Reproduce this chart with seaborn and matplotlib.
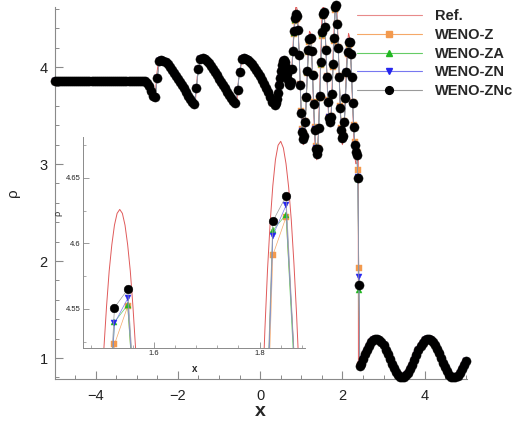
import numpy as np
import matplotlib
matplotlib.use("Agg")
import matplotlib.pyplot as plt
from matplotlib.lines import Line2D
from matplotlib.ticker import MultipleLocator, FixedLocator, FixedFormatter
import seaborn as sns

sns.set_theme(style="ticks")
plt.rcParams["font.family"] = ["Liberation Sans", "DejaVu Sans"]

# ---------------- data ----------------
# smooth post-shock region, x = -5.0 ... 0.35 (step 0.05), shared by all schemes
rho_smooth_left = [
    3.857, 3.857, 3.857, 3.857, 3.857, 3.857, 3.857, 3.857, 3.857, 3.857,
    3.857, 3.857, 3.857, 3.857, 3.857, 3.857, 3.857, 3.857, 3.857, 3.857,
    3.857, 3.857, 3.857, 3.857, 3.857, 3.857, 3.857, 3.857, 3.857, 3.857,
    3.857, 3.857, 3.857, 3.857, 3.857, 3.857, 3.857, 3.857, 3.857, 3.857,
    3.857, 3.857, 3.857, 3.857, 3.857,
    3.84, 3.80, 3.75, 3.70, 3.69,
    3.89, 4.06, 4.07, 4.06, 4.05, 4.03, 4.00, 3.97, 3.94, 3.91, 3.88,
    3.85, 3.81, 3.78, 3.74, 3.70, 3.67, 3.64, 3.62,
    3.78, 3.98, 4.08, 4.09, 4.08, 4.06, 4.04, 4.01, 3.98, 3.95, 3.92, 3.88,
    3.85, 3.81, 3.78, 3.74, 3.71, 3.68, 3.65, 3.63,
    3.76, 3.95, 4.08, 4.09, 4.08, 4.07, 4.05, 4.03, 4.00, 3.97, 3.94, 3.91,
    3.87, 3.83, 3.78, 3.74, 3.69, 3.64, 3.61,
]

# high-frequency region, x = 0.375 ... 2.425 (step 0.025)
rho_znc_hf = [
    3.63, 3.67, 3.73, 3.81, 3.89, 3.96, 4.02, 4.06, 4.07, 4.05, 4.00, 3.93,
    3.87, 3.83, 3.82, 3.85, 3.98, 4.17, 4.37, 4.51, 4.55, 4.53, 4.38, 4.12,
    3.82, 3.53, 3.33, 3.26, 3.29, 3.43, 3.69, 3.96, 4.18, 4.29, 4.30, 4.17,
    3.92, 3.62, 3.35, 3.16, 3.10, 3.15, 3.37, 3.70, 4.05, 4.36, 4.551, 4.565,
    4.41, 4.18, 3.90, 3.64, 3.47, 3.43, 3.49, 3.72, 4.03, 4.30, 4.617, 4.636,
    4.44, 4.20, 3.90, 3.58, 3.35, 3.27, 3.29, 3.43, 3.68, 3.95, 4.16, 4.26,
    4.26, 4.13, 3.90, 3.63, 3.38, 3.20, 3.12, 3.09, 2.86, 1.75, 0.92,
]
rho_zn_hf = [
    3.63, 3.67, 3.73, 3.81, 3.89, 3.96, 4.02, 4.06, 4.07, 4.05, 4.00, 3.93,
    3.87, 3.83, 3.82, 3.85, 3.98, 4.16, 4.36, 4.50, 4.54, 4.52, 4.38, 4.12,
    3.82, 3.53, 3.34, 3.27, 3.30, 3.43, 3.69, 3.95, 4.17, 4.28, 4.30, 4.17,
    3.92, 3.62, 3.36, 3.17, 3.11, 3.16, 3.37, 3.70, 4.04, 4.35, 4.539, 4.558,
    4.41, 4.18, 3.90, 3.64, 3.48, 3.44, 3.49, 3.72, 4.02, 4.29, 4.606, 4.629,
    4.44, 4.20, 3.90, 3.58, 3.35, 3.27, 3.29, 3.43, 3.68, 3.95, 4.16, 4.26,
    4.26, 4.13, 3.90, 3.63, 3.38, 3.20, 3.12, 3.09, 2.87, 1.84, 0.92,
]
rho_za_hf = [
    3.63, 3.67, 3.73, 3.81, 3.89, 3.96, 4.02, 4.06, 4.07, 4.05, 4.00, 3.93,
    3.87, 3.83, 3.82, 3.85, 3.98, 4.16, 4.35, 4.49, 4.53, 4.52, 4.38, 4.12,
    3.82, 3.54, 3.35, 3.28, 3.30, 3.43, 3.68, 3.95, 4.17, 4.28, 4.29, 4.17,
    3.92, 3.63, 3.37, 3.18, 3.12, 3.16, 3.37, 3.69, 4.03, 4.34, 4.540, 4.553,
    4.40, 4.18, 3.90, 3.65, 3.48, 3.44, 3.49, 3.71, 4.02, 4.29, 4.610, 4.622,
    4.43, 4.20, 3.90, 3.59, 3.36, 3.28, 3.30, 3.43, 3.68, 3.94, 4.15, 4.25,
    4.25, 4.13, 3.90, 3.63, 3.39, 3.21, 3.13, 3.10, 2.85, 1.70, 0.92,
]
rho_z_hf = [
    3.63, 3.67, 3.73, 3.81, 3.89, 3.96, 4.02, 4.06, 4.07, 4.05, 4.00, 3.93,
    3.87, 3.83, 3.82, 3.85, 3.98, 4.15, 4.34, 4.47, 4.51, 4.50, 4.37, 4.12,
    3.83, 3.55, 3.36, 3.29, 3.31, 3.44, 3.68, 3.94, 4.15, 4.26, 4.28, 4.17,
    3.93, 3.64, 3.38, 3.19, 3.13, 3.17, 3.37, 3.68, 4.02, 4.32, 4.523, 4.552,
    4.41, 4.19, 3.91, 3.66, 3.49, 3.45, 3.50, 3.71, 4.00, 4.27, 4.591, 4.620,
    4.45, 4.21, 3.91, 3.60, 3.37, 3.29, 3.31, 3.44, 3.67, 3.93, 4.13, 4.23,
    4.24, 4.12, 3.90, 3.64, 3.40, 3.23, 3.15, 3.12, 2.94, 1.93, 0.93,
]

# undisturbed pre-shock region, x = 2.45 ... 5.0 (step 0.05), shared
rho_preshock = [
    0.938, 0.987, 1.037, 1.084, 1.126, 1.161, 1.185, 1.198, 1.199, 1.187,
    1.164, 1.130, 1.088, 1.041, 0.992, 0.942, 0.897, 0.858, 0.827, 0.807,
    0.800, 0.805, 0.822, 0.850, 0.887, 0.931, 0.980, 1.030, 1.078, 1.121,
    1.157, 1.183, 1.197, 1.199, 1.189, 1.167, 1.135, 1.094, 1.048, 0.998,
    0.949, 0.903, 0.862, 0.830, 0.809, 0.800, 0.804, 0.819, 0.845, 0.882,
    0.925, 0.974,
]

# reference solution (line vertices)
ref_x_left = [-5.0, -2.80, -2.70, -2.60, -2.55, -2.52, -2.47, -2.40, -2.30,
              -2.20, -2.00, -1.80, -1.65, -1.58, -1.53, -1.45, -1.35, -1.20,
              -1.00, -0.80, -0.65, -0.57, -0.52, -0.43, -0.30, -0.20, -0.10,
              0.00, 0.10, 0.20, 0.30]
ref_rho_left = [3.857, 3.857, 3.80, 3.70, 3.68, 3.90, 4.07, 4.08, 4.05,
                4.00, 3.88, 3.74, 3.64, 3.61, 3.90, 4.09, 4.08, 4.01,
                3.88, 3.74, 3.65, 3.62, 3.90, 4.09, 4.07, 4.03, 3.97,
                3.91, 3.83, 3.74, 3.64]
ref_x_hf = [
    0.34, 0.375, 0.40, 0.425, 0.45, 0.475, 0.50, 0.525, 0.55, 0.575, 0.60,
    0.625, 0.65, 0.675, 0.70, 0.725, 0.75, 0.775, 0.80, 0.825, 0.85, 0.875,
    0.90, 0.925, 0.95, 0.975, 1.00, 1.025, 1.05, 1.075, 1.10, 1.125, 1.15,
    1.175, 1.20, 1.225, 1.25, 1.275, 1.30, 1.325, 1.35, 1.375, 1.40, 1.425,
    1.45, 1.475, 1.50, 1.505, 1.51, 1.515, 1.52, 1.525, 1.53, 1.535, 1.54,
    1.545, 1.55, 1.555, 1.56, 1.565, 1.57, 1.575, 1.60, 1.625, 1.65, 1.675,
    1.70, 1.725, 1.75, 1.775, 1.80, 1.805, 1.81, 1.815, 1.82, 1.825, 1.83,
    1.835, 1.84, 1.845, 1.85, 1.855, 1.86, 1.865, 1.87, 1.875, 1.88, 1.90,
    1.925, 1.95, 1.975, 2.00, 2.025, 2.05, 2.075, 2.10, 2.125, 2.15, 2.175,
    2.20, 2.225, 2.25, 2.275, 2.30, 2.325, 2.35, 2.375, 2.385, 2.39, 2.40,
    2.425,
]
ref_rho_hf = [
    3.60, 3.627, 3.676, 3.745, 3.824, 3.905, 3.979, 4.036, 4.071, 4.079, 4.053,
    3.997, 3.925, 3.858, 3.812, 3.802, 3.871, 4.022, 4.22, 4.418, 4.569, 4.638,
    4.591, 4.405, 4.116, 3.788, 3.485, 3.276, 3.20, 3.270, 3.462, 3.732, 4.016,
    4.246, 4.369, 4.351, 4.184, 3.904, 3.579, 3.285, 3.091, 3.044, 3.166, 3.437,
    3.795, 4.162, 4.481, 4.520, 4.552, 4.579, 4.599, 4.614, 4.623, 4.626, 4.623,
    4.614, 4.599, 4.579, 4.552, 4.520, 4.481, 4.437, 4.184, 3.881, 3.608, 3.427,
    3.384, 3.514, 3.794, 4.142, 4.418, 4.480, 4.534, 4.580, 4.616, 4.644, 4.664,
    4.675, 4.678, 4.673, 4.661, 4.643, 4.618, 4.585, 4.546, 4.500, 4.448, 4.214,
    3.859, 3.527, 3.287, 3.20, 3.272, 3.471, 3.746, 4.028, 4.247, 4.347, 4.307,
    4.142, 3.884, 3.584, 3.304, 3.095, 3.003, 3.01, 3.04, 3.05, 0.884, 0.893,
    0.915,
]

series_labels = ["Ref.", "WENO-Z", "WENO-ZA", "WENO-ZN", "WENO-ZNc"]

# ---------------- assemble ----------------
x_left = np.linspace(-5.0, 0.35, len(rho_smooth_left))
x_hf = np.linspace(0.375, 2.425, len(rho_znc_hf))
x_pre = np.linspace(2.45, 5.0, len(rho_preshock))
x_num = np.concatenate([x_left, x_hf, x_pre])


def scheme(hf):
    return np.concatenate([rho_smooth_left, hf, rho_preshock])


ref_x = np.concatenate([ref_x_left, ref_x_hf, x_pre])
ref_rho = np.concatenate([ref_rho_left, ref_rho_hf, rho_preshock])

styles = {
    "WENO-Z": dict(y=scheme(rho_z_hf), color="#f39a4e", marker="s", ms=4.3,
                   lc="#f5a868", z=3),
    "WENO-ZA": dict(y=scheme(rho_za_hf), color="#22b822", marker="^", ms=5.0,
                    lc="#66cc66", z=4),
    "WENO-ZN": dict(y=scheme(rho_zn_hf), color="#2626ee", marker="v", ms=5.0,
                    lc="#7777f0", z=5),
    "WENO-ZNc": dict(y=scheme(rho_znc_hf), color="black", marker="o", ms=6.6,
                     lc="#9a9a9a", z=6),
}
ref_color = "#e05a5a"

W, H = 516, 422
fig = plt.figure(figsize=(W / 100, H / 100), dpi=100)
fig.patch.set_facecolor("white")

ax = fig.add_axes([54.5 / W, (H - 379) / H, (467 - 54.5) / W, (379 - 7) / H])
ax_in = fig.add_axes([83 / W, (H - 348) / H, (305 - 83) / W, (348 - 137) / H])
ax_in.patch.set_alpha(0)

for a, clip, ms_scale in ((ax, False, 1.0), (ax_in, True, 0.95)):
    sns.lineplot(x=ref_x, y=ref_rho, ax=a, color=ref_color, lw=0.7,
                 estimator=None, sort=False, legend=False, zorder=2)
    for name, st in styles.items():
        sns.lineplot(x=x_num, y=st["y"], ax=a, color=st["lc"], lw=0.5,
                     marker=st["marker"], ms=st["ms"] * ms_scale,
                     markerfacecolor=st["color"], markeredgecolor=st["color"],
                     markeredgewidth=0.3, estimator=None, sort=False,
                     legend=False, zorder=st["z"], clip_on=clip)

spine_c = "#8a8a8a"
# main axes styling
ax.set_xlim(-5.0, 5.03)
ax.set_ylim(0.784, 4.619)
for s in ("top", "right"):
    ax.spines[s].set_visible(False)
for s in ("left", "bottom"):
    ax.spines[s].set_color(spine_c)
    ax.spines[s].set_linewidth(0.8)
ax.xaxis.set_major_locator(FixedLocator([-4, -2, 0, 2, 4]))
ax.xaxis.set_minor_locator(MultipleLocator(0.5))
ax.yaxis.set_major_locator(FixedLocator([1, 2, 3, 4]))
ax.yaxis.set_minor_locator(MultipleLocator(0.2))
ax.tick_params(which="both", bottom=True, left=True, top=False, right=False)
ax.tick_params(which="major", direction="in", length=6, width=0.8,
               color=spine_c, labelsize=10.5, labelcolor="#222222", pad=7)
ax.tick_params(which="minor", direction="in", length=3, width=0.7,
               color=spine_c)
ax.tick_params(axis="y", which="major", pad=5)
ax.set_xlabel("x", fontsize=14, fontweight="bold", labelpad=0)
ax.set_ylabel("\u03c1", fontsize=11, labelpad=14)
ax.grid(False)

# inset styling
ax_in.set_xlim(1.4654, 1.886)
ax_in.set_ylim(4.5202, 4.6813)
for s in ("top", "right"):
    ax_in.spines[s].set_visible(False)
for s in ("left", "bottom"):
    ax_in.spines[s].set_color(spine_c)
    ax_in.spines[s].set_linewidth(0.7)
ax_in.xaxis.set_major_locator(FixedLocator([1.6, 1.8]))
ax_in.xaxis.set_major_formatter(FixedFormatter(["1.6", "1.8"]))
ax_in.xaxis.set_minor_locator(MultipleLocator(0.04))
ax_in.yaxis.set_major_locator(FixedLocator([4.55, 4.6, 4.65]))
ax_in.yaxis.set_major_formatter(FixedFormatter(["4.55", "4.6", "4.65"]))
ax_in.yaxis.set_minor_locator(MultipleLocator(0.025))
ax_in.tick_params(which="both", bottom=True, left=True, top=False, right=False)
ax_in.tick_params(which="major", direction="in", length=4, width=0.6,
                  color=spine_c, labelsize=5.5, labelcolor="#222222", pad=1.5)
ax_in.tick_params(which="minor", direction="in", length=2, width=0.5,
                  color=spine_c)
ax_in.set_xlabel("x", fontsize=7, fontweight="bold")
ax_in.xaxis.set_label_coords(0.505, -0.075)
ax_in.set_ylabel("\u03c1", fontsize=6.5)
ax_in.yaxis.set_label_coords(-0.095, 0.64)
ax_in.grid(False)

# legend
handles = [Line2D([], [], color="#e88a8a", lw=0.8, label=series_labels[0])]
for name in series_labels[1:]:
    st = styles[name]
    handles.append(Line2D([], [], color=st["lc"], lw=0.8, marker=st["marker"],
                          ms=st["ms"] * (0.85 if name == "WENO-ZNc" else 1.0),
                          markerfacecolor=st["color"],
                          markeredgecolor=st["color"], label=name))
fig.legend(handles=handles, loc="upper left",
           bbox_to_anchor=(357 / W, 1 - 9 / H), frameon=False,
           prop={"size": 10.5, "weight": "bold"}, handlelength=4.45,
           handletextpad=0.9, labelspacing=0.33, borderaxespad=0,
           borderpad=0, numpoints=1)

fig.savefig("out.png", dpi=100, facecolor="white")
